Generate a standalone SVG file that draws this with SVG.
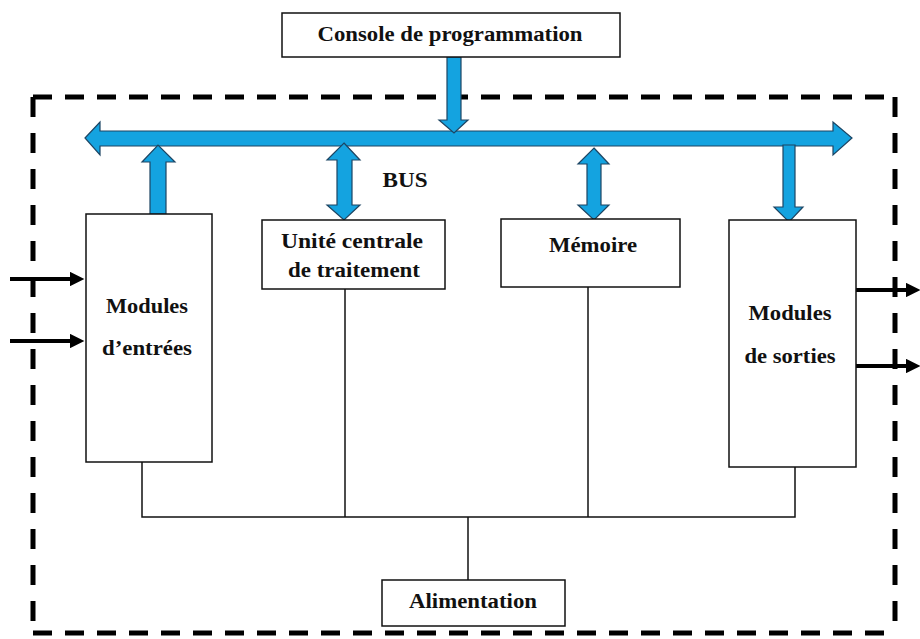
<svg xmlns="http://www.w3.org/2000/svg" width="920" height="639" viewBox="0 0 920 639">
  <style>
    .box { fill: #ffffff; stroke: #111111; stroke-width: 1.5; }
    .lbl { font-family: "Liberation Serif", "Times New Roman", serif; font-weight: bold; font-size: 20px; fill: #111111; text-anchor: middle; }
    .wire { fill: none; stroke: #111111; stroke-width: 1.5; }
    .bus { fill: #14a3e0; stroke: #1d4563; stroke-width: 1.2; stroke-linejoin: miter; }
    .frame { stroke: #000000; stroke-width: 5; fill: none; }
    .io { stroke: #000000; stroke-width: 4; fill: none; }
  </style>
  <defs>
    <marker id="ioHead" viewBox="0 0 10 10" refX="0" refY="5" markerWidth="4.2" markerHeight="3.6" markerUnits="strokeWidth" orient="auto">
      <path d="M0,0 L10,5 L0,10 z" fill="#000000"/>
    </marker>
  </defs>

  <rect width="920" height="639" fill="#ffffff"/>

  <!-- dashed enclosure of the automate -->
  <g id="enclosure">
    <line class="frame" x1="33" y1="97" x2="895" y2="97" stroke-dasharray="19 13"/>
    <line class="frame" x1="33" y1="633" x2="895" y2="633" stroke-dasharray="19 13"/>
    <line class="frame" x1="33" y1="97" x2="33" y2="633" stroke-dasharray="20 16"/>
    <line class="frame" x1="895" y1="97" x2="895" y2="633" stroke-dasharray="20 16"/>
  </g>

  <g id="connectors">
    <!-- system bus -->
    <polygon class="bus" points="85,138 100,122 100,131 833,131 833,122 852,138 833,155 833,146 100,146 100,155"/>
    <!-- console to bus -->
    <polygon class="bus" points="447,57 461,57 461,120 468,120 454,133 439,120 447,120"/>
    <!-- input modules to bus -->
    <polygon class="bus" points="150,214 150,162 142,162 158,145 175,162 166,162 166,214"/>
    <!-- CPU <-> bus -->
    <polygon class="bus" points="344,143 360,160 352,160 352,205 360,205 344,220 327,205 337,205 337,160 327,160"/>
    <!-- memory <-> bus -->
    <polygon class="bus" points="594,148 609,164 601,164 601,205 609,205 594,220 578,205 587,205 587,164 578,164"/>
    <!-- bus to output modules -->
    <polygon class="bus" points="783,145 795,145 795,207 803,207 789,222 774,207 783,207"/>

    <!-- power distribution -->
    <polyline class="wire" points="142,462 142,517 795,517 795,467"/>
    <line class="wire" x1="345" y1="289" x2="345" y2="517"/>
    <line class="wire" x1="588" y1="287" x2="588" y2="517"/>
    <line class="wire" x1="468" y1="517" x2="468" y2="580"/>

    <!-- field inputs / outputs -->
    <line class="io" x1="10" y1="279" x2="70" y2="279" marker-end="url(#ioHead)"/>
    <line class="io" x1="10" y1="341" x2="70" y2="341" marker-end="url(#ioHead)"/>
    <line class="io" x1="856" y1="290" x2="906" y2="290" marker-end="url(#ioHead)"/>
    <line class="io" x1="856" y1="366" x2="906" y2="366" marker-end="url(#ioHead)"/>
  </g>

  <g id="console">
    <rect class="box" x="282" y="13" width="338" height="44"/>
    <text class="lbl" x="450" y="41" textLength="265" lengthAdjust="spacingAndGlyphs">Console de programmation</text>
  </g>

  <text class="lbl" x="405" y="187" textLength="45" lengthAdjust="spacingAndGlyphs">BUS</text>

  <g id="entrees">
    <rect class="box" x="86" y="214" width="126" height="248"/>
    <text class="lbl" x="147" y="313" textLength="82" lengthAdjust="spacingAndGlyphs">Modules</text>
    <text class="lbl" x="147" y="355" textLength="90" lengthAdjust="spacingAndGlyphs">d’entrées</text>
  </g>

  <g id="cpu">
    <rect class="box" x="262" y="220" width="183" height="69"/>
    <text class="lbl" x="352" y="248" textLength="142" lengthAdjust="spacingAndGlyphs">Unité centrale</text>
    <text class="lbl" x="354" y="277" textLength="132" lengthAdjust="spacingAndGlyphs">de traitement</text>
  </g>

  <g id="memoire">
    <rect class="box" x="501" y="219" width="179" height="68"/>
    <text class="lbl" x="593" y="252" textLength="88" lengthAdjust="spacingAndGlyphs">Mémoire</text>
  </g>

  <g id="sorties">
    <rect class="box" x="729" y="220" width="127" height="247"/>
    <text class="lbl" x="790" y="320" textLength="83" lengthAdjust="spacingAndGlyphs">Modules</text>
    <text class="lbl" x="790" y="363" textLength="91" lengthAdjust="spacingAndGlyphs">de sorties</text>
  </g>

  <g id="alimentation">
    <rect class="box" x="382" y="580" width="183" height="46"/>
    <text class="lbl" x="473" y="608" textLength="128" lengthAdjust="spacingAndGlyphs">Alimentation</text>
  </g>
</svg>
